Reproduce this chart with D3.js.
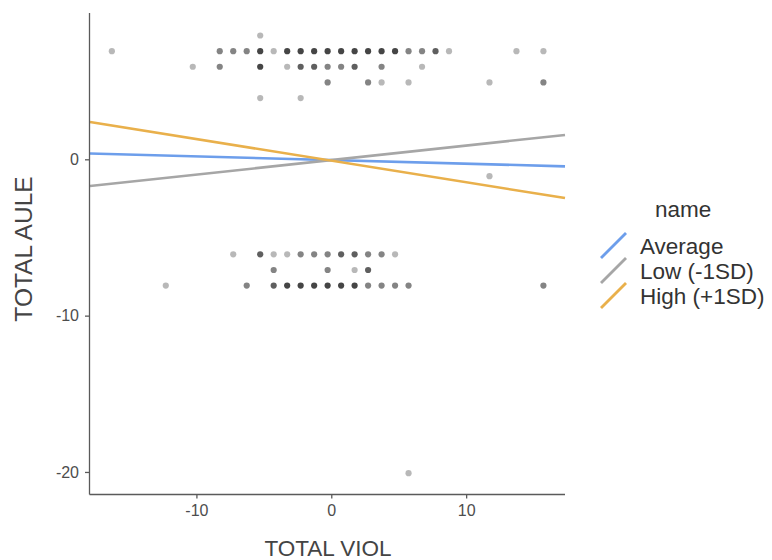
<!DOCTYPE html>
<html>
<head>
<meta charset="utf-8">
<script src="https://cdn.jsdelivr.net/npm/d3@7"></script>
<style>
  body { margin: 0; background: #fff; }
  svg { display: block; font-family: "Liberation Sans", Arial, sans-serif; }
</style>
</head>
<body>
<svg id="chart" width="772" height="560"></svg>
<script>
// ---- data ----
const xTicks = [-10, 0, 10];
const yTicks = [0, -10, -20];
const xDomain = [-17.89, 17.33];
const yDomain = [-21.41, 9.36];

const pointX = [
  -5.27,
  -16.27, -8.27, -7.27, -6.27, -5.27, -4.27, -3.27, -2.27, -1.27, -0.27, 0.73, 1.73, 2.73, 3.73, 4.73, 5.73, 6.73, 7.73, 8.73, 13.73, 15.73,
  -10.27, -8.27, -5.27, -3.27, -2.27, -1.27, -0.27, 0.73, 1.73, 3.73, 6.73,
  -0.27, 2.73, 3.73, 5.73, 11.73, 15.73,
  -5.27, -2.27,
  11.73,
  -7.27, -5.27, -4.27, -3.27, -2.27, -1.27, -0.27, 0.73, 1.73, 2.73, 3.73, 4.73,
  -4.27, -0.27, 1.73, 2.73,
  -12.27, -6.27, -4.27, -3.27, -2.27, -1.27, -0.27, 0.73, 1.73, 2.73, 3.73, 4.73, 5.73, 15.73,
  5.73
];
const pointY = [
  7.92,
  6.92, 6.92, 6.92, 6.92, 6.92, 6.92, 6.92, 6.92, 6.92, 6.92, 6.92, 6.92, 6.92, 6.92, 6.92, 6.92, 6.92, 6.92, 6.92, 6.92, 6.92,
  5.92, 5.92, 5.92, 5.92, 5.92, 5.92, 5.92, 5.92, 5.92, 5.92, 5.92,
  4.92, 4.92, 4.92, 4.92, 4.92, 4.92,
  3.92, 3.92,
  -1.08,
  -6.08, -6.08, -6.08, -6.08, -6.08, -6.08, -6.08, -6.08, -6.08, -6.08, -6.08, -6.08,
  -7.08, -7.08, -7.08, -7.08,
  -8.08, -8.08, -8.08, -8.08, -8.08, -8.08, -8.08, -8.08, -8.08, -8.08, -8.08, -8.08, -8.08, -8.08,
  -20.08
];
// number of overlapping observations at each position
const pointN = [
  1,
  1, 2, 2, 2, 4, 1, 4, 4, 4, 4, 4, 4, 4, 4, 4, 2, 2, 3, 1, 1, 1,
  1, 2, 4, 1, 3, 3, 2, 2, 3, 2, 1,
  2, 2, 1, 1, 1, 2,
  1, 1,
  1,
  1, 3, 1, 1, 2, 2, 2, 3, 3, 2, 2, 1,
  2, 2, 1, 3,
  1, 2, 3, 4, 4, 4, 4, 4, 4, 2, 2, 2, 2, 2,
  1
];

const lineNames = ["Average", "Low (-1SD)", "High (+1SD)"];
const lineColors = ["#6d9eeb", "#a6a6a6", "#e9b04b"];
const lineYStart = [0.37, -1.71, 2.39];   // y at left edge of x domain
const lineYEnd = [-0.45, 1.56, -2.48];    // y at right edge of x domain

// ---- layout ----
const svg = d3.select("#chart");
const L = 90, R = 565, T = 13, B = 494;
const x = d3.scaleLinear().domain(xDomain).range([L, R]);
const y = d3.scaleLinear().domain(yDomain).range([B, T]);

const axisColor = "#5a5a5a";
const tickText = "#4d4d4d";

// points
const alpha = 0.28;
const pts = pointX.map((v, i) => ({ x: v, y: pointY[i], n: pointN[i] }));
svg.append("g").selectAll("circle").data(pts).join("circle")
  .attr("cx", d => x(d.x))
  .attr("cy", d => y(d.y))
  .attr("r", 3.1)
  .attr("fill", "#000")
  .attr("fill-opacity", d => 1 - Math.pow(1 - alpha, d.n));

// lines
const lines = lineNames.map((nm, i) => ({
  name: nm, color: lineColors[i],
  values: [{ x: xDomain[0], y: lineYStart[i] }, { x: xDomain[1], y: lineYEnd[i] }]
}));
const lineGen = d3.line().x(d => x(d.x)).y(d => y(d.y));
svg.append("g").selectAll("path").data(lines).join("path")
  .attr("d", d => lineGen(d.values))
  .attr("fill", "none")
  .attr("stroke", d => d.color)
  .attr("stroke-width", 2.6);

// axes
const fmt = d => String(d);
const xAxis = svg.append("g").attr("transform", `translate(0,${B})`)
  .call(d3.axisBottom(x).tickValues(xTicks).tickFormat(fmt).tickSize(4.5).tickPadding(6).tickSizeOuter(0));
const yAxis = svg.append("g").attr("transform", `translate(${L - 0.5},0)`)
  .call(d3.axisLeft(y).tickValues(yTicks).tickFormat(fmt).tickSize(4.5).tickPadding(6).tickSizeOuter(0));
[xAxis, yAxis].forEach(g => {
  g.select(".domain").attr("stroke", axisColor).attr("stroke-width", 1.3);
  g.selectAll(".tick line").attr("stroke", axisColor).attr("stroke-width", 1.3);
  g.selectAll(".tick text").attr("fill", tickText).attr("font-size", 16)
    .attr("font-family", "Liberation Sans, Arial, sans-serif");
});
xAxis.select(".domain").attr("d", `M${L - 0.5},0.5H${R}`);
yAxis.select(".domain").attr("d", `M0,${T}V${B + 0.5}`);

// axis titles
svg.append("text")
  .attr("x", 328).attr("y", 556)
  .attr("text-anchor", "middle")
  .attr("font-size", 22.5).attr("fill", "#444")
  .text("TOTAL VIOL");
svg.append("text")
  .attr("transform", `translate(32,249) rotate(-90)`)
  .attr("text-anchor", "middle")
  .attr("font-size", 24.5).attr("fill", "#444")
  .text("TOTAL AULE");

// legend
const lg = svg.append("g");
lg.append("text").attr("x", 655).attr("y", 217)
  .attr("font-size", 22.5).attr("fill", "#333").text("name");
lines.forEach((d, i) => {
  const yb = 258 + i * 25;
  lg.append("line")
    .attr("x1", 601).attr("y1", yb).attr("x2", 626).attr("y2", yb - 25)
    .attr("stroke", d.color).attr("stroke-width", 2.8);
  lg.append("text").attr("x", 640).attr("y", 254 + i * 25)
    .attr("font-size", 22.5).attr("fill", "#333").text(d.name);
});
</script>
</body>
</html>
